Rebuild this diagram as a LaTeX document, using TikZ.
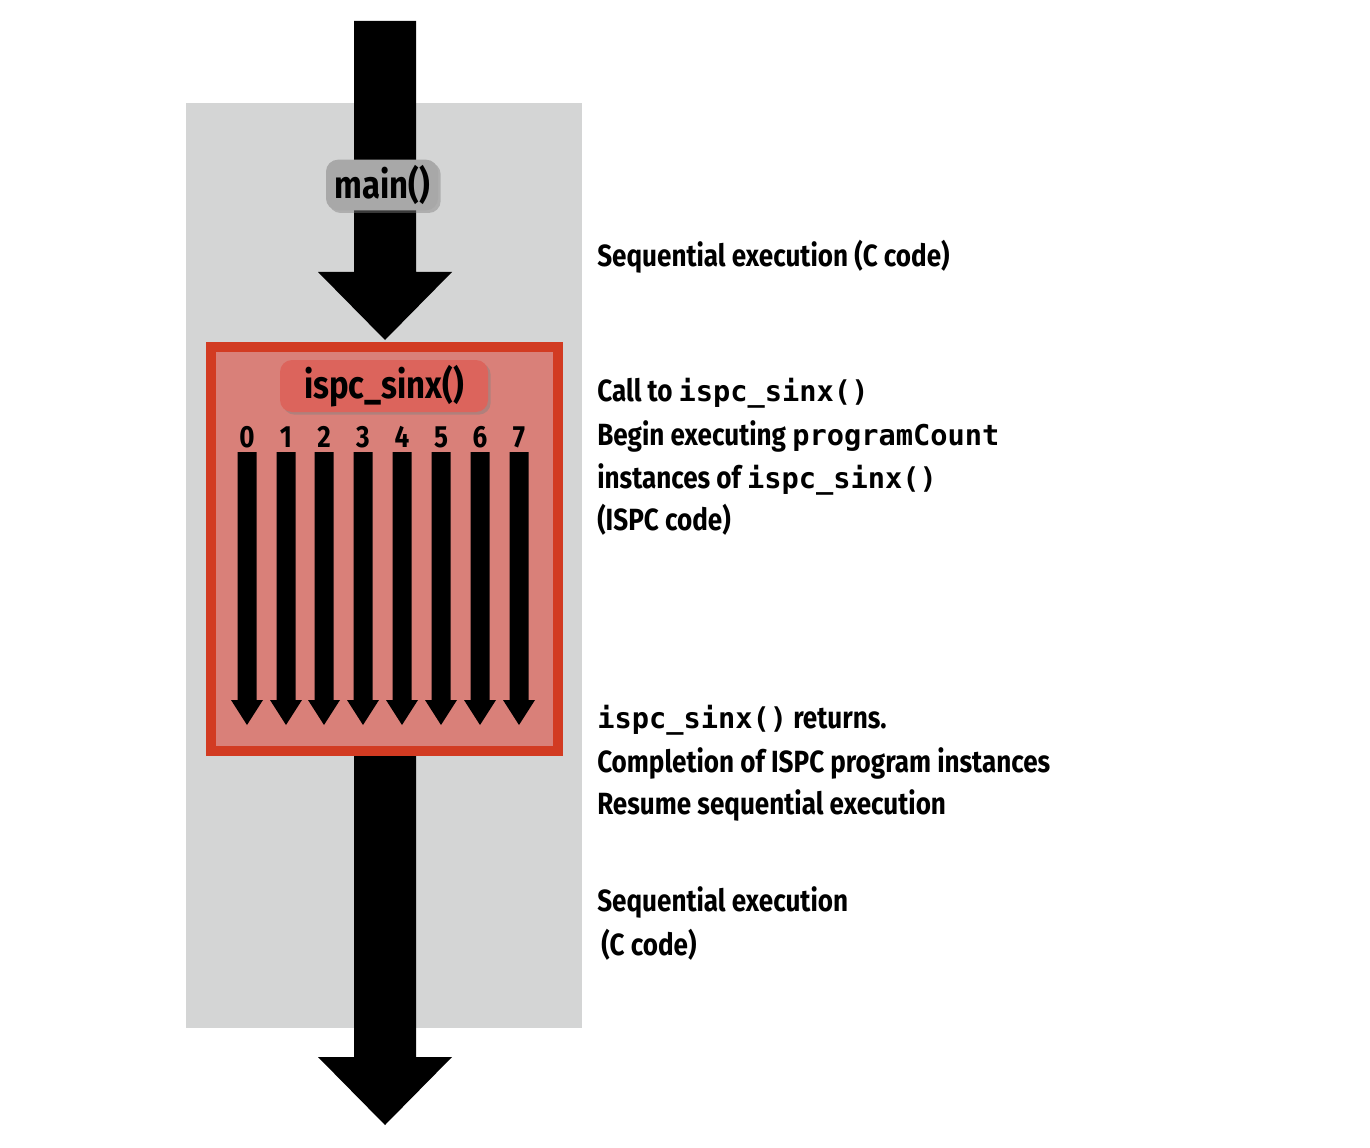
\documentclass[tikz,border=0pt]{standalone}
\usepackage{fontspec}
\setmainfont{Fira Sans}[FakeStretch=0.85,BoldFont={* Bold}]
\setmonofont{DejaVu Sans Mono}
\usetikzlibrary{shadows}
\definecolor{bggray}{HTML}{D4D5D5}
\definecolor{boxred}{HTML}{D23B22}
\definecolor{boxfill}{HTML}{D98079}
\definecolor{labred}{HTML}{DC645C}
\definecolor{labgray}{HTML}{A8A8A8}
\newcommand{\code}[1]{{\fontsize{21.5}{24}\selectfont\ttfamily\bfseries #1}}
\tikzset{
  desc/.style={anchor=west,inner sep=0pt,font=\fontsize{23}{26}\selectfont\bfseries},
  fnlabel/.style={rounded corners=9pt,inner sep=0pt,
    drop shadow={shadow xshift=2pt,shadow yshift=-2pt,opacity=0.45},
    font=\fontsize{29}{32}\selectfont\bfseries},
  lanenum/.style={inner sep=0pt,font=\fontsize{23}{26}\selectfont\bfseries},
}
\newcommand{\bigarrow}[3]{% x center, y top, y tip
  \fill[black] (#1-31,#2) -- (#1+31,#2) -- (#1+31,#3-68) -- (#1+67,#3-68)
    -- (#1,#3) -- (#1-67,#3-68) -- (#1-31,#3-68) -- cycle;}
\newcommand{\lanearrow}[1]{%
  \fill[black] (#1-9.5,452) -- (#1+9.5,452) -- (#1+9.5,700) -- (#1+16,700)
    -- (#1,725) -- (#1-16,700) -- (#1-9.5,700) -- cycle;}
\begin{document}
\begin{tikzpicture}[x=0.75pt,y=-0.75pt]
\useasboundingbox (0,0) rectangle (1370,1148);
\fill[white] (0,0) rectangle (1370,1148);
\fill[bggray] (186,103) rectangle (582,1028);
% top sequential arrow
\bigarrow{385}{21}{340}
% bottom sequential arrow
\bigarrow{385}{750}{1125}
% ISPC box
\draw[boxred,line width=7.5pt,fill=boxfill] (211,347) rectangle (558,751);
\node[fnlabel,fill=labgray,minimum width=84pt,minimum height=38pt] (main) at (382,185) {main()};
\node[fnlabel,fill=labred,minimum width=156pt,minimum height=39pt] (ispc) at (384,386) {ispc\_sinx()};
\foreach \i/\x in {0/247,1/286,2/324,3/363,4/402,5/441,6/480,7/519}{
  \node[lanenum] (n\i) at (\x,437) {\i};
  \lanearrow{\x}
}
\node[desc] (t1) at (597,257) {Sequential execution (C code)};
\node[desc] (t2) at (597,393) {Call to \code{ispc\_sinx()}};
\node[desc] (t3) at (597,436) {Begin executing \code{programCount}};
\node[desc] (t4) at (597,479) {instances of \code{ispc\_sinx()}};
\node[desc] (t5) at (597,520) {(ISPC code)};
\node[desc] (t6) at (597,720) {\code{ispc\_sinx()} returns.};
\node[desc] (t7) at (597,763) {Completion of ISPC program instances};
\node[desc] (t8) at (597,805) {Resume sequential execution};
\node[desc] (t9) at (597,902) {Sequential execution};
\node[desc] (t10) at (601,945) {(C code)};
\end{tikzpicture}
\end{document}
